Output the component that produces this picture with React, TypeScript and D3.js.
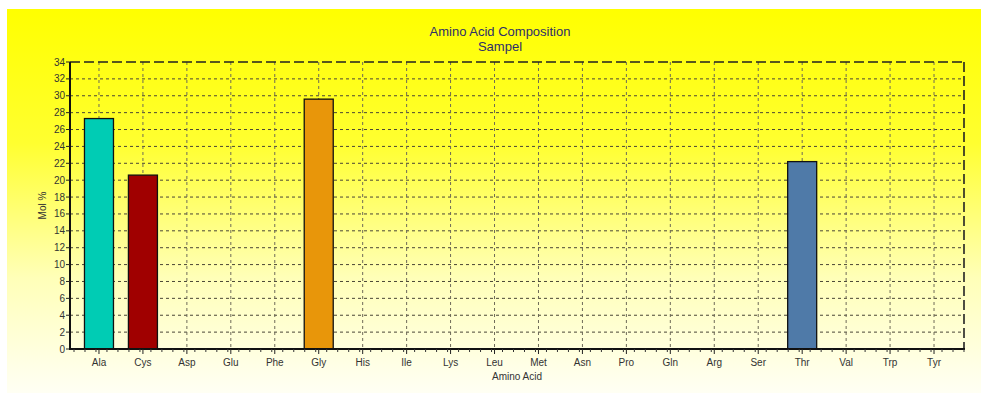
import React from "react";
import * as d3 from "d3";

const categories = ["Ala", "Cys", "Asp", "Glu", "Phe", "Gly", "His", "Ile", "Lys", "Leu", "Met", "Asn", "Pro", "Gln", "Arg", "Ser", "Thr", "Val", "Trp", "Tyr"];
const molPercent = [27.3, 20.6, 0, 0, 0, 29.6, 0, 0, 0, 0, 0, 0, 0, 0, 0, 0, 22.2, 0, 0, 0];
const barColors = ["#00CCB4", "#A00000", "#A00000", "#A00000", "#A00000", "#E8960A", "#A00000", "#A00000", "#A00000", "#A00000", "#A00000", "#A00000", "#A00000", "#A00000", "#A00000", "#A00000", "#4F7AA8", "#A00000", "#A00000", "#A00000"];
const yTicks = d3.range(0, 35, 2);
const titleLines = ["Amino Acid Composition", "Sampel"];

const W = 981;
const H = 393;
const plot = { left: 70, right: 964, top: 62, bottom: 349 };

export default function App() {
  const x = d3
    .scaleBand<string>()
    .domain(categories)
    .range([77, 956])
    .paddingInner(0.34)
    .paddingOuter(0.17);
  const y = d3.scaleLinear().domain([0, 34]).range([plot.bottom, plot.top]);
  const center = (c: string) => (x(c) ?? 0) + x.bandwidth() / 2;
  const step = x.step();
  const minorTicks: number[] = [];
  for (let px = plot.left + 4; px < plot.right; px += step / 4) minorTicks.push(px);

  const font = "'Liberation Sans', Arial, sans-serif";
  const textColor = "#333333";

  return (
    <svg
      width={W}
      height={H}
      style={{ position: "absolute", left: 0, top: 0 }}
      fontFamily={font}
    >
      <defs>
        <linearGradient id="bg" x1="0" y1="0" x2="0" y2="1">
          <stop offset="0" stopColor="#FFFF00" />
          <stop offset="0.35" stopColor="#FFFF30" />
          <stop offset="0.7" stopColor="#FFFFB8" />
          <stop offset="1" stopColor="#FFFFF4" />
        </linearGradient>
      </defs>
      <rect x={0} y={0} width={W} height={H} fill="#ffffff" />
      <rect x={7} y={9} width={W - 7} height={H - 9} fill="url(#bg)" />

      {titleLines.map((t, i) => (
        <text
          key={t}
          x={500}
          y={36 + i * 15}
          textAnchor="middle"
          fontSize={13}
          fill="#2E2E6A"
        >
          {t}
        </text>
      ))}

      {/* horizontal grid */}
      {yTicks.slice(1, -1).map((v) => (
        <line
          key={"h" + v}
          x1={plot.left}
          x2={plot.right}
          y1={y(v)}
          y2={y(v)}
          stroke="#4a4636"
          strokeWidth={1}
          strokeDasharray="3,3"
        />
      ))}
      {/* vertical grid */}
      {categories.map((c) => (
        <line
          key={"v" + c}
          x1={center(c)}
          x2={center(c)}
          y1={plot.top}
          y2={plot.bottom}
          stroke="#6e6a58"
          strokeWidth={1}
          strokeDasharray="3,3"
        />
      ))}

      {/* bars */}
      {categories.map((c, i) =>
        molPercent[i] > 0 ? (
          <rect
            key={"b" + c}
            x={x(c)}
            y={y(molPercent[i])}
            width={x.bandwidth()}
            height={y(0) - y(molPercent[i])}
            fill={barColors[i]}
            stroke="#111"
            strokeWidth={1.3}
          />
        ) : null
      )}

      {/* top and right frame */}
      <line x1={plot.left} x2={plot.right} y1={plot.top} y2={plot.top} stroke="#222" strokeWidth={1.6} strokeDasharray="10,4" />
      <line x1={plot.right} x2={plot.right} y1={plot.top} y2={plot.bottom} stroke="#222" strokeWidth={1.6} strokeDasharray="10,4" />

      {/* y axis */}
      <line x1={plot.left} x2={plot.left} y1={plot.top} y2={plot.bottom + 1} stroke="#111" strokeWidth={2} />
      {yTicks.map((v) => (
        <g key={"yt" + v}>
          <line x1={plot.left - 4} x2={plot.left} y1={y(v)} y2={y(v)} stroke="#222" strokeWidth={1} />
          <text x={plot.left - 5} y={y(v) + 3.5} textAnchor="end" fontSize={10} fill={textColor}>
            {v}
          </text>
        </g>
      ))}
      <text
        transform={`translate(46,${(plot.top + plot.bottom) / 2}) rotate(-90)`}
        textAnchor="middle"
        fontSize={10}
        fill={textColor}
      >
        Mol %
      </text>

      {/* x axis */}
      <line x1={plot.left - 1} x2={plot.right + 1} y1={plot.bottom} y2={plot.bottom} stroke="#111" strokeWidth={2} />
      {minorTicks.map((px, i) => (
        <line key={"mt" + i} x1={px} x2={px} y1={plot.bottom} y2={plot.bottom + 3} stroke="#333" strokeWidth={1} />
      ))}
      {categories.map((c) => (
        <g key={"xt" + c}>
          <line x1={center(c)} x2={center(c)} y1={plot.bottom} y2={plot.bottom + 5} stroke="#222" strokeWidth={1} />
          <text x={center(c)} y={plot.bottom + 17} textAnchor="middle" fontSize={10} fill={textColor}>
            {c}
          </text>
        </g>
      ))}
      <text x={517} y={380} textAnchor="middle" fontSize={10} fill={textColor}>
        Amino Acid
      </text>
    </svg>
  );
}
